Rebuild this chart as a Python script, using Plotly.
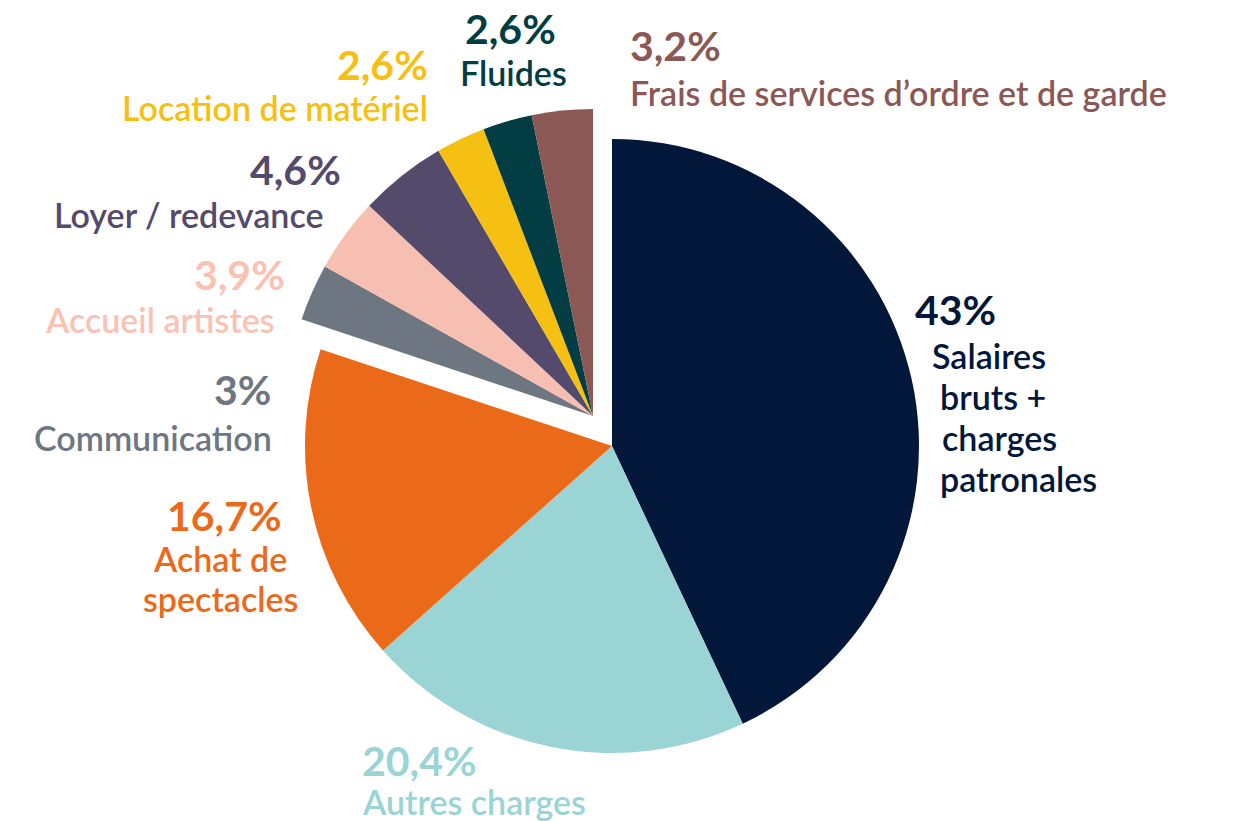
import plotly.graph_objects as go

# ---- data ----
labels = ["Salaires bruts + charges patronales", "Autres charges", "Achat de spectacles",
          "Communication", "Accueil artistes", "Loyer / redevance",
          "Location de matériel", "Fluides", "Frais de services d’ordre et de garde"]
values = [43, 20.4, 16.7, 3, 3.9, 4.6, 2.6, 2.6, 3.2]
colors = ["#02173A", "#9AD4D4", "#EB6A1A", "#6E7682", "#F7BEB2", "#544A6C",
          "#F6C012", "#023D44", "#8B5855"]
text_colors = ["#02173A", "#9AD4D4", "#EB6A1A", "#6E7682", "#FAC2B4", "#544A6C",
               "#F6C012", "#023D44", "#8B5855"]
big_group = [True, True, True, False, False, False, False, False, False]

W, H = 1233, 821
FONT = "Lato"


def px(x, y):
    return x / W, 1 - y / H


def pct(v):
    return f"{v:g}".replace(".", ",") + "%"


def domain(cx, cy, r):
    return dict(x=[(cx - r) / W, (cx + r) / W], y=[(H - cy - r) / H, (H - cy + r) / H])


fig = go.Figure()
for grp, (cx, cy) in [(True, (612, 446)), (False, (593, 416))]:
    cols = [c if g == grp else "rgba(0,0,0,0)" for c, g in zip(colors, big_group)]
    fig.add_trace(go.Pie(
        labels=labels, values=values, sort=False, direction="clockwise", rotation=0,
        marker=dict(colors=cols, line=dict(width=0)), textinfo="none",
        domain=domain(cx, cy, 307), showlegend=False,
        hoverinfo="label+percent" if grp else "skip",
    ))

# label placements (pixel anchors): pct (x, y, xanchor), label lines
place = {
    0: dict(p=(913, 309, "left"), l=[("Salaires", 930, 355, "left"), ("bruts +", 938, 396, "left"),
                                     ("charges", 940, 437, "left"), ("patronales", 938, 478, "left")]),
    1: dict(p=(360, 760, "left"), l=[("Autres charges", 360, 801, "left")]),
    2: dict(p=(284, 515, "right"), l=[("Achat de", 220, 558, "center"), ("spectacles", 220, 598, "center")]),
    3: dict(p=(273, 389, "right"), l=[("Communication", 274, 437, "right")]),
    4: dict(p=(287, 274, "right"), l=[("Accueil artistes", 277, 320, "right")]),
    5: dict(p=(343, 169, "right"), l=[("Loyer / redevance", 325, 214, "right")]),
    6: dict(p=(430, 65, "right"), l=[("Location de matériel", 430, 108, "right")]),
    7: dict(p=(510, 29, "center"), l=[("Fluides", 513, 73, "center")]),
    8: dict(p=(628, 45, "left"), l=[("Frais de services d’ordre et de garde", 628, 92, "left")]),
}

ann = []
for i, v in enumerate(values):
    pl = place[i]
    x, y, xa = pl["p"]
    ax, ay = px(x, y)
    ann.append(dict(text=f"<b>{pct(v)}</b>", x=ax, y=ay, xref="paper", yref="paper",
                    xanchor=xa, yanchor="middle", showarrow=False,
                    font=dict(family=FONT, size=41, color=text_colors[i])))
    for t, lx, ly, la in pl["l"]:
        bx, by = px(lx, ly)
        ann.append(dict(text=t, x=bx, y=by, xref="paper", yref="paper",
                        xanchor=la, yanchor="middle", showarrow=False,
                        font=dict(family=FONT, size=34, color=text_colors[i], weight=600)))

fig.update_layout(width=W, height=H, margin=dict(l=0, r=0, t=0, b=0),
                  paper_bgcolor="white", plot_bgcolor="white", annotations=ann)

fig.write_html("out.html", config={"displayModeBar": False},
               post_script="document.body.style.margin='0';document.body.style.overflow='hidden';")
